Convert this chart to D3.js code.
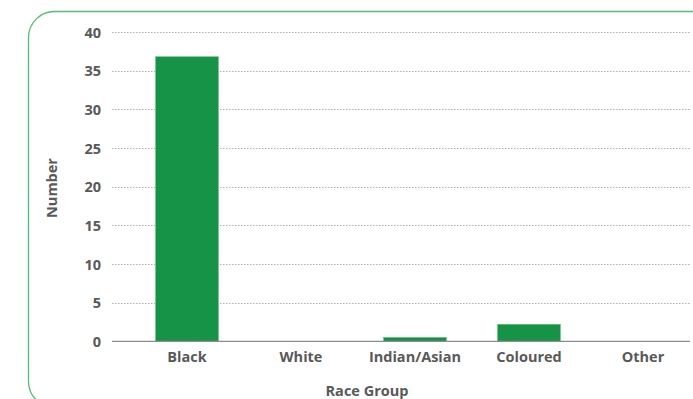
<!DOCTYPE html>
<html><head><meta charset="utf-8">
<script src="https://cdn.jsdelivr.net/npm/d3@7"></script>
<style>body{margin:0;background:#fff}svg{display:block}</style>
</head><body>
<script>
const categories = ["Black","White","Indian/Asian","Coloured","Other"];
const values = [36.8, 0, 0.5, 2.2, 0];
const yTicks = [0,5,10,15,20,25,30,35,40];

const W=693,H=399;
const svg=d3.select("body").append("svg").attr("width",W).attr("height",H);
svg.append("rect").attr("x",28.5).attr("y",11.5).attr("width",690).attr("height",396)
  .attr("rx",26).attr("ry",26).attr("fill","none").attr("stroke","#5ab97a").attr("stroke-width",1.3);

const y=d3.scaleLinear().domain([0,40]).range([341.3,32]);
const x=d3.scaleBand().domain(categories).range([130,700]).paddingInner(0.45).paddingOuter(0.225);
const gx0=112, gx1=690;
const font="'Open Sans', Lato, sans-serif";
const fs=14.5;

const grid=svg.append("g");
yTicks.filter(t=>t>0).forEach(t=>{
  grid.append("line").attr("x1",gx0).attr("x2",gx1).attr("y1",Math.round(y(t))+0.5).attr("y2",Math.round(y(t))+0.5)
   .attr("stroke","#b0b0b0").attr("stroke-width",1).attr("stroke-dasharray","1.5,1.5");
});

svg.append("g").selectAll("rect").data(values).join("rect")
  .attr("x",(d,i)=>x(categories[i])).attr("width",x.bandwidth())
  .attr("y",d=>y(d)).attr("height",d=>y(0)-y(d))
  .attr("fill","#169347").attr("stroke","#5dbb80").attr("stroke-width",0.6);

svg.append("line").attr("x1",gx0).attr("x2",gx1).attr("y1",y(0)).attr("y2",y(0))
  .attr("stroke","#8c8c8c").attr("stroke-width",1.3);

const yAxis=d3.axisLeft(y).tickValues(yTicks).tickSize(0).tickPadding(0);
const ga=svg.append("g").attr("transform","translate(101,0)").call(yAxis);
ga.select(".domain").remove();
ga.selectAll("text").attr("font-family",font).attr("font-size",fs).attr("font-weight","bold").attr("fill","#595959").attr("dy","0.35em");

const xAxis=d3.axisBottom(x).tickSize(0).tickPadding(0);
const gb=svg.append("g").attr("transform","translate(0,352)").call(xAxis);
gb.select(".domain").remove();
gb.selectAll("text").attr("font-family",font).attr("font-size",fs).attr("font-weight","bold").attr("fill","#595959").attr("dy","0.71em");

svg.append("text").attr("x",367).attr("y",396).attr("text-anchor","middle")
  .attr("font-family",font).attr("font-size",fs).attr("font-weight","bold").attr("fill","#595959").text("Race Group");
svg.append("text").attr("transform","translate(57,188) rotate(-90)").attr("text-anchor","middle")
  .attr("font-family",font).attr("font-size",fs).attr("font-weight","bold").attr("fill","#595959").text("Number");
</script>
</body></html>
